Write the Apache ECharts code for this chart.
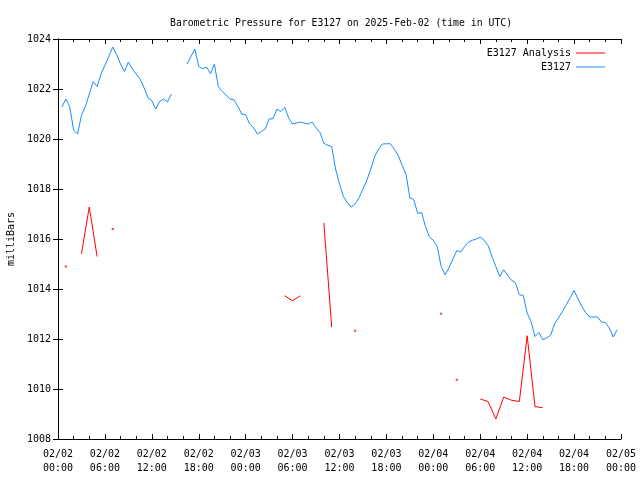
<!DOCTYPE html>
<html>
<head>
<meta charset="utf-8">
<script src="https://cdn.jsdelivr.net/npm/echarts@6/dist/echarts.min.js"></script>
<style>html,body{margin:0;padding:0;background:#fff}#c{width:640px;height:480px}</style>
</head>
<body>
<div id="c"></div>
<script>
// Hours since 2025-02-02 00:00 UTC
var blueHours = [0.5,1.0,1.5,2.0,2.5,3.0,3.5,4.0,4.5,5.0,5.5,6.0,6.5,7.0,7.5,8.0,8.5,9.0,9.5,10.0,10.5,11.0,11.5,12.0,12.5,13.0,13.5,14.0,14.5,
  15.5,
  16.5,17.0,17.5,18.0,18.5,19.0,19.5,20.0,20.5,21.0,21.5,22.0,22.5,23.0,23.5,24.0,24.5,25.0,25.5,26.0,26.5,27.0,27.5,28.0,28.5,29.0,29.5,30.0,30.5,31.0,31.5,32.0,32.5,33.0,33.5,34.0,34.5,35.0,35.5,36.0,36.5,37.0,37.5,38.0,38.5,39.0,39.5,40.0,40.5,41.0,41.5,42.0,42.5,43.0,43.5,44.0,44.5,45.0,45.5,46.0,46.5,47.0,47.5,48.0,48.5,49.0,49.5,50.0,50.5,51.0,51.5,52.0,52.5,53.0,53.5,54.0,54.5,55.0,55.5,56.0,56.5,57.0,57.5,58.0,58.5,59.0,59.5,60.0,60.5,61.0,61.5,62.0,62.5,63.0,63.5,64.0,64.5,65.0,65.5,66.0,66.5,67.0,67.5,68.0,68.5,69.0,69.5,70.0,70.5,71.0,71.5];
var blueValues = [1021.28,1021.6,1021.3,1020.35,1020.2,1020.95,1021.3,1021.8,1022.3,1022.1,1022.6,1022.95,1023.3,1023.68,1023.37,1023.0,1022.7,1023.08,1022.8,1022.6,1022.4,1022.05,1021.65,1021.53,1021.2,1021.5,1021.6,1021.48,1021.8,
  null,
  1023.0,1023.3,1023.6,1022.9,1022.81,1022.88,1022.61,1023.0,1022.1,1021.9,1021.75,1021.6,1021.57,1021.3,1021.0,1020.97,1020.6,1020.46,1020.2,1020.3,1020.4,1020.8,1020.81,1021.2,1021.1,1021.26,1020.84,1020.6,1020.64,1020.68,1020.64,1020.6,1020.68,1020.45,1020.26,1019.83,1019.75,1019.7,1018.8,1018.2,1017.7,1017.45,1017.28,1017.4,1017.65,1018.0,1018.35,1018.8,1019.3,1019.6,1019.8,1019.81,1019.81,1019.6,1019.35,1018.95,1018.6,1017.65,1017.57,1017.02,1017.06,1016.5,1016.08,1015.95,1015.7,1014.9,1014.57,1014.85,1015.2,1015.54,1015.48,1015.7,1015.88,1015.95,1016.0,1016.08,1015.95,1015.74,1015.3,1014.9,1014.5,1014.77,1014.55,1014.35,1014.25,1013.77,1013.74,1013.04,1012.7,1012.1,1012.26,1011.97,1012.05,1012.15,1012.6,1012.84,1013.1,1013.37,1013.65,1013.94,1013.6,1013.3,1013.05,1012.88,1012.88,1012.88,1012.68,1012.66,1012.45,1012.08,1012.37];

var redHours = [3,4,5, 6, 29,30,31, 32, 34,35, 36, 54,55,56,57,58,59,60,61,62];
var redValues = [1015.4,1017.28,1015.3, null, 1013.73,1013.53,1013.73, null, 1016.64,1012.48, null, 1009.6,1009.5,1008.8,1009.68,1009.55,1009.5,1012.13,1009.3,1009.25];

var redDotHours = [1, 7, 38, 49, 51];
var redDotValues = [1014.9, 1016.4, 1012.33, 1013.01, 1010.37];

var xTickLabels = ['02/02\n00:00','02/02\n06:00','02/02\n12:00','02/02\n18:00','02/03\n00:00','02/03\n06:00','02/03\n12:00','02/03\n18:00','02/04\n00:00','02/04\n06:00','02/04\n12:00','02/04\n18:00','02/05\n00:00'];

function zip(a, b) { return a.map(function (h, i) { return [h, b[i]]; }); }

var FONT = 'DejaVu Sans Mono';
var chart = echarts.init(document.getElementById('c'), null, {renderer: 'canvas'});
var axLine = {show: true, lineStyle: {color: '#000', width: 1}};
var tick = {show: true, inside: false, length: -5, lineStyle: {color: '#000'}};
var minor = {show: true, splitNumber: 3, length: -3, lineStyle: {color: '#000'}};
var option = {
  animation: false,
  backgroundColor: '#fff',
  title: {
    text: 'Barometric Pressure for E3127 on 2025-Feb-02 (time in UTC)',
    left: 165, top: 13,
    textStyle: {fontFamily: FONT, fontSize: 9.8, fontWeight: 'normal', color: '#000'}
  },
  legend: {
    orient: 'vertical', right: 30, top: 43, align: 'right',
    itemWidth: 29, itemHeight: 1, itemGap: 4,
    textStyle: {fontFamily: FONT, fontSize: 10, color: '#000'},
    data: [{name: 'E3127 Analysis', icon: 'rect'}, {name: 'E3127', icon: 'rect'}]
  },
  grid: {left: 58, right: 19, top: 39, bottom: 41, containLabel: false, outerBoundsMode: 'none'},
  xAxis: [{
    type: 'value', min: 0, max: 72, interval: 6, position: 'bottom',
    axisLine: axLine, axisTick: tick, minorTick: minor,
    splitLine: {show: false},
    axisLabel: {
      margin: 8, color: '#000', fontFamily: FONT, fontSize: 10, lineHeight: 14,
      formatter: function (v) { return xTickLabels[Math.round(v / 6)]; }
    }
  }, {
    type: 'value', min: 0, max: 72, interval: 6, position: 'top',
    axisLine: axLine, axisTick: tick, minorTick: minor,
    splitLine: {show: false}, axisLabel: {show: false}
  }],
  yAxis: [{
    type: 'value', min: 1008, max: 1024, interval: 2, position: 'left',
    name: 'milliBars', nameLocation: 'middle', nameRotate: 90, nameGap: 36,
    nameTextStyle: {fontFamily: FONT, fontSize: 10, color: '#000'},
    axisLine: axLine, axisTick: tick,
    splitLine: {show: false},
    axisLabel: {margin: 7, color: '#000', fontFamily: FONT, fontSize: 10,
      formatter: function (v) { return String(v); }}
  }, {
    type: 'value', min: 1008, max: 1024, interval: 2, position: 'right',
    axisLine: axLine, axisTick: tick,
    splitLine: {show: false}, axisLabel: {show: false}
  }],
  series: [{
    name: 'E3127 Analysis', type: 'line', xAxisIndex: 0, yAxisIndex: 0,
    data: zip(redHours, redValues), symbol: 'none', connectNulls: false,
    lineStyle: {color: '#ff0000', width: 1}, itemStyle: {color: '#ff0000'}
  }, {
    name: 'E3127', type: 'line', xAxisIndex: 0, yAxisIndex: 0,
    data: zip(blueHours, blueValues), symbol: 'none', connectNulls: false,
    lineStyle: {color: '#1a8cff', width: 1}, itemStyle: {color: '#1a8cff'}
  }, {
    name: 'E3127 Analysis', type: 'scatter', xAxisIndex: 0, yAxisIndex: 0,
    data: zip(redDotHours, redDotValues), symbol: 'rect', symbolSize: 2,
    itemStyle: {color: '#ff0000'}
  }]
};
chart.setOption(option);
</script>
</body>
</html>
